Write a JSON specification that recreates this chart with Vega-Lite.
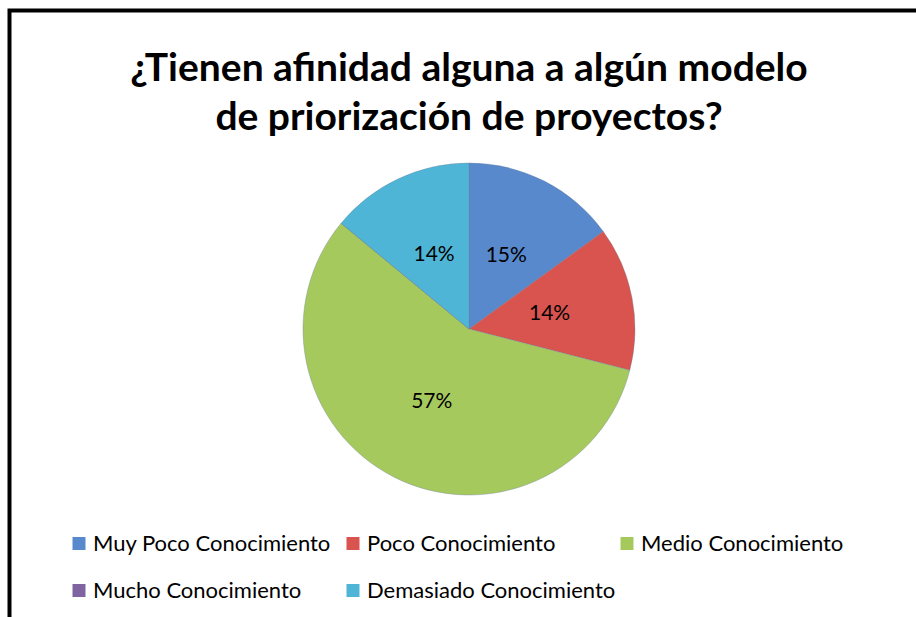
{
  "$schema": "https://vega.github.io/schema/vega-lite/v6.json",
  "width": 919,
  "height": 637,
  "autosize": {"type": "none"},
  "padding": {"left": 9.5, "top": 10.5, "right": -12.5, "bottom": -30.5},
  "background": "white",
  "config": {
    "view": {"stroke": null},
    "font": "Lato"
  },
  "title": {
    "text": ["¿Tienen afinidad alguna a algún modelo", "de priorización de proyectos?"],
    "orient": "top",
    "anchor": "middle",
    "baseline": "top",
    "offset": -129,
    "font": "Lato",
    "fontSize": 39,
    "fontWeight": "bold",
    "color": "black",
    "lineHeight": 49
  },
  "data": {
    "values": [
      {"categoria": "Muy Poco Conocimiento", "valor": 15, "etiqueta": "15%", "orden": 1},
      {"categoria": "Poco Conocimiento", "valor": 14, "etiqueta": "14%", "orden": 2},
      {"categoria": "Medio Conocimiento", "valor": 57, "etiqueta": "57%", "orden": 3},
      {"categoria": "Mucho Conocimiento", "valor": 0, "etiqueta": "", "orden": 4},
      {"categoria": "Demasiado Conocimiento", "valor": 14, "etiqueta": "14%", "orden": 5}
    ]
  },
  "layer": [
    {
      "data": {"values": [{"marco": 1}]},
      "mark": {"type": "rect", "fill": null, "fillOpacity": 0, "stroke": "black", "strokeWidth": 4},
      "encoding": {}
    },
    {
      "mark": {"type": "arc", "outerRadius": 166, "stroke": "#6b7f99", "strokeWidth": 0.6, "strokeOpacity": 0.6},
      "encoding": {
        "theta": {"field": "valor", "type": "quantitative", "stack": true},
        "order": {"field": "orden", "type": "quantitative"},
        "color": {
          "field": "categoria",
          "type": "nominal",
          "sort": ["Muy Poco Conocimiento", "Poco Conocimiento", "Medio Conocimiento", "Mucho Conocimiento", "Demasiado Conocimiento"],
          "scale": {
            "domain": ["Muy Poco Conocimiento", "Poco Conocimiento", "Medio Conocimiento", "Mucho Conocimiento", "Demasiado Conocimiento"],
            "range": ["#5889cc", "#d9534f", "#a6c95e", "#8064A2", "#4fb5d6"]
          },
          "legend": {
            "orient": "none",
            "direction": "horizontal",
            "legendX": 58.5,
            "legendY": 522,
            "title": null,
            "columns": 3,
            "gridAlign": "all",
            "columnPadding": -8,
            "rowPadding": 25,
            "padding": 0,
            "symbolType": "square",
            "symbolSize": 169,
            "symbolStrokeWidth": 0,
            "labelFont": "Lato",
            "labelFontSize": 22,
            "labelColor": "black",
            "labelOffset": 3,
            "labelLimit": 400
          }
        }
      }
    },
    {
      "transform": [{"filter": "datum.valor > 0"}],
      "mark": {"type": "text", "radius": 82, "fontSize": 21, "font": "Lato", "color": "black", "baseline": "middle", "align": "center"},
      "encoding": {
        "theta": {"field": "valor", "type": "quantitative", "stack": true},
        "order": {"field": "orden", "type": "quantitative"},
        "text": {"field": "etiqueta", "type": "nominal"}
      }
    }
  ]
}
